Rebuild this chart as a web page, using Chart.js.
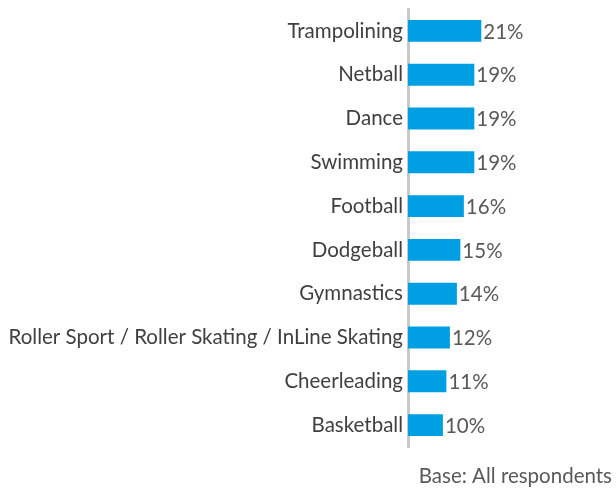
<!DOCTYPE html>
<html>
<head>
<meta charset="utf-8">
<script src="https://cdn.jsdelivr.net/npm/chart.js@4"></script>
<style>
  html, body { margin: 0; padding: 0; background: #fff; }
  #wrap { width: 616px; height: 492px; }
</style>
</head>
<body>
<div id="wrap"><canvas id="chart" width="616" height="492"></canvas></div>
<script>
// Sports, top to bottom
const sports = ['Trampolining', 'Netball', 'Dance', 'Swimming', 'Football', 'Dodgeball',
  'Gymnastics', 'Roller Sport / Roller Skating / InLine Skating', 'Cheerleading', 'Basketball'];
const shares = [21, 19, 19, 19, 16, 15, 14, 12, 11, 10];
const footNote = 'Base: All respondents';

const FONT = 'Lato, "Open Sans", sans-serif';

// Draws "21%" etc. just right of each bar, plus the base note
const valueLabels = {
    id: 'valueLabels',
    afterDatasetsDraw(chart) {
        const ctx = chart.ctx;
        const meta = chart.getDatasetMeta(0);
        ctx.save();
        ctx.font = '20.5px ' + FONT;
        ctx.fillStyle = '#595959';
        ctx.textAlign = 'left';
        ctx.textBaseline = 'middle';
        meta.data.forEach((bar, i) => {
            ctx.fillText(shares[i] + '%', bar.x + 2, bar.y + 1);
        });
        // footnote, bottom right
        ctx.textAlign = 'right';
        ctx.textBaseline = 'alphabetic';
        ctx.fillText(footNote, 612, 483);
        ctx.restore();
    }
};

new Chart(document.getElementById('chart'), {
    type: 'bar',
    data: {
        labels: sports,
        datasets: [{
            data: shares,
            backgroundColor: '#009FE3',
            barPercentage: 0.5,
            categoryPercentage: 1
        }]
    },
    options: {
        indexAxis: 'y',
        responsive: false,
        animation: false,
        layout: { padding: { top: 9, right: 16, left: 0, bottom: 45 } },
        plugins: {
            legend: { display: false },
            tooltip: { enabled: false }
        },
        scales: {
            x: {
                min: 0,
                max: 55,
                display: false
            },
            y: {
                grid: { display: false, drawTicks: false },
                border: { display: true, color: '#C8C8C8', width: 3 },
                ticks: {
                    color: '#404040',
                    padding: 5,
                    font: { family: FONT, size: 20.5 }
                },
                afterFit(scale) {
                    scale.width = 408;
                    scale.paddingTop = 0;
                    scale.paddingBottom = 0;
                }
            }
        }
    },
    plugins: [valueLabels]
});
</script>
</body>
</html>
